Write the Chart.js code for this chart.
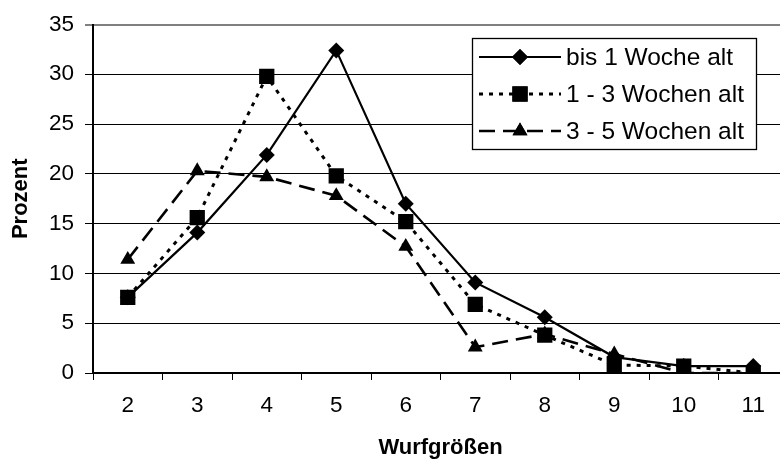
<!DOCTYPE html>
<html>
<head>
<meta charset="utf-8">
<script src="https://cdn.jsdelivr.net/npm/chart.js@4/dist/chart.umd.min.js"></script>
<style>
  html, body { margin: 0; padding: 0; background: #fff; overflow: hidden; }
  #wrap { width: 780px; height: 464px; overflow: hidden; position: relative; }
  canvas { display: block; }
</style>
</head>
<body>
<div id="wrap"><canvas id="c" width="800" height="464"></canvas></div>
<script>
const categories = ['2', '3', '4', '5', '6', '7', '8', '9', '10', '11'];
const seriesNames = ['bis 1 Woche alt', '1 - 3 Wochen alt', '3 - 5 Wochen alt'];
const bis1Woche = [7.6, 14.1, 21.9, 32.4, 17.0, 9.1, 5.6, 1.6, 0.7, 0.7];
const woche1bis3 = [7.6, 15.6, 29.8, 19.8, 15.2, 6.9, 3.8, 0.8, 0.7, 0.0];
const woche3bis5 = [11.4, 20.3, 19.7, 17.8, 12.7, 2.6, 3.9, 1.9, 0.0, 0.0];
const yTicks = [0, 5, 10, 15, 20, 25, 30, 35];
const xTitle = 'Wurfgrößen';
const yTitle = 'Prozent';

const styles = [
  { pointStyle: 'rectRot', radius: 8, dash: [], width: 2.2 },
  { pointStyle: 'rect', radius: 10.8, dash: [4, 6], width: 3 },
  { pointStyle: 'triangle', radius: 8.6, dash: [16, 8], width: 2.6 }
];
const seriesData = [bis1Woche, woche1bis3, woche3bis5];

const datasets = seriesData.map((d, i) => ({
  label: seriesNames[i],
  data: d,
  borderColor: '#000',
  backgroundColor: '#000',
  borderWidth: styles[i].width,
  borderDash: styles[i].dash,
  pointStyle: styles[i].pointStyle,
  pointRadius: styles[i].radius,
  pointBackgroundColor: '#000',
  pointBorderColor: '#000',
  pointBorderWidth: 0,
  tension: 0,
  order: 3 - i
}));

const legendPlugin = {
  id: 'customLegend',
  afterDraw(chart) {
    const ctx = chart.ctx;
    ctx.save();
    const bx = 472.5, by = 38.5, bw = 284, bh = 111;
    ctx.fillStyle = '#fff';
    ctx.fillRect(bx, by, bw, bh);
    ctx.strokeStyle = '#000';
    ctx.lineWidth = 1.3;
    ctx.strokeRect(bx, by, bw, bh);
    const rows = [57, 94, 131];
    seriesNames.forEach((name, i) => {
      const y = rows[i];
      const st = styles[i];
      ctx.beginPath();
      ctx.setLineDash(st.dash);
      ctx.lineWidth = st.width;
      ctx.strokeStyle = '#000';
      ctx.moveTo(479, y);
      ctx.lineTo(561, y);
      ctx.stroke();
      ctx.setLineDash([]);
      ctx.fillStyle = '#000';
      Chart.helpers.drawPoint(ctx, { pointStyle: st.pointStyle, radius: st.radius, rotation: 0, borderWidth: 0 }, 520, y);
      ctx.fill();
      ctx.fillStyle = '#000';
      ctx.font = '24.5px "Liberation Sans", Arial, sans-serif';
      ctx.textBaseline = 'middle';
      ctx.textAlign = 'left';
      ctx.fillText(name, 566, y + 1);
    });
    ctx.restore();
  }
};

new Chart(document.getElementById('c'), {
  type: 'line',
  data: { labels: categories, datasets },
  plugins: [legendPlugin],
  options: {
    responsive: false,
    devicePixelRatio: 1,
    animation: false,
    layout: { padding: { top: 22, right: 12, left: 0, bottom: 0 } },
    plugins: { legend: { display: false }, tooltip: { enabled: false } },
    scales: {
      x: {
        type: 'category',
        offset: true,
        afterFit(scale) { scale.height = 91; },
        grid: { display: true, offset: true, drawOnChartArea: false, drawTicks: true, tickLength: 7, color: '#000', lineWidth: 1 },
        border: { display: true, color: '#000', width: 2 },
        ticks: { color: '#000', padding: 12, font: { family: '"Liberation Sans", Arial, sans-serif', size: 22.5 }, maxRotation: 0 },
        title: { display: true, text: xTitle, color: '#000', padding: { top: 0, bottom: 3 }, font: { family: '"Liberation Sans", Arial, sans-serif', size: 22, weight: 'bold' } }
      },
      y: {
        min: 0,
        max: 35,
        afterFit(scale) { scale.width = 93; },
        afterBuildTicks(scale) { scale.ticks = yTicks.map(v => ({ value: v })); },
        grid: {
          drawTicks: true,
          tickLength: 8,
          color: (c) => (c.tick && c.tick.value === 35 ? '#808080' : '#000'),
          lineWidth: (c) => (c.tick && c.tick.value === 35 ? 2 : 1)
        },
        border: { display: true, color: '#000', width: 2 },
        ticks: { color: '#000', padding: 11, font: { family: '"Liberation Sans", Arial, sans-serif', size: 22.5 } },
        title: { display: true, text: yTitle, color: '#000', padding: { top: 8, bottom: 0 }, font: { family: '"Liberation Sans", Arial, sans-serif', size: 22, weight: 'bold' } }
      }
    }
  }
});
</script>
</body>
</html>
